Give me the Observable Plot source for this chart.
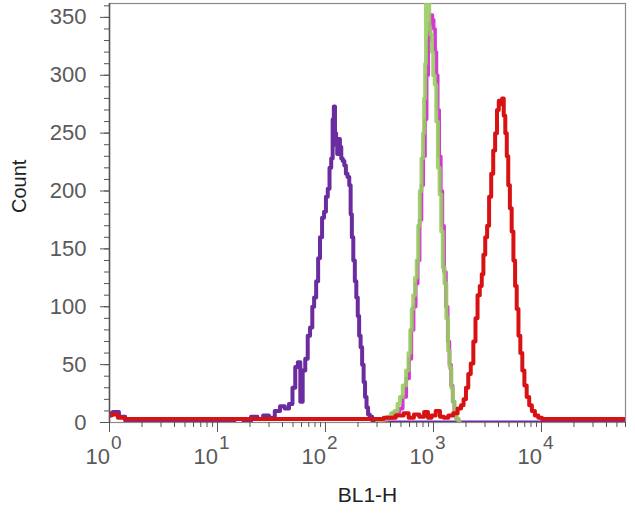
<!DOCTYPE html>
<html>
<head>
<meta charset="utf-8">
<script src="https://cdn.jsdelivr.net/npm/d3@7"></script>
<script src="https://cdn.jsdelivr.net/npm/@observablehq/plot@0.6"></script>
<style>
html, body { margin: 0; padding: 0; background: #fff; }
</style>
</head>
<body>
<div id="chart"></div>
<script>
// BL1-H values (fluorescence) and counts
const purpleBL1 = [1, 1.15, 1.3, 1.5, 2, 3, 10, 13, 16, 19, 22, 25, 28, 32, 36, 40, 44, 48, 51, 54, 57, 60, 63, 67, 70, 74, 77, 80, 84, 87, 91, 95, 99, 103, 107, 111, 115, 118, 121, 124, 127, 130, 134, 138, 142, 147, 152, 157, 163, 169, 173, 178, 184, 190, 196, 202, 208, 215, 222, 229, 236, 244, 252, 262, 280, 300, 60000];
const purpleCount = [8, 9, 5, 2, 1, 0, 0, 2, 3, 1, 5, 3, 6, 4, 10, 14, 12, 16, 30, 48, 52, 18, 45, 55, 75, 82, 100, 108, 122, 142, 160, 177, 182, 195, 202, 220, 228, 262, 273, 250, 240, 232, 245, 238, 228, 226, 222, 215, 212, 205, 180, 160, 140, 122, 108, 92, 75, 65, 50, 35, 22, 13, 7, 5, 2, 0, 0];

const magentaBL1 = [300, 350, 400, 440, 470, 500, 540, 580, 610, 640, 670, 700, 730, 760, 790, 820, 850, 880, 910, 940, 965, 990, 1020, 1050, 1080, 1110, 1150, 1190, 1230, 1280, 1330, 1380, 1430, 1480, 1530, 1590, 1660, 1750];
const magentaCount = [0, 2, 4, 8, 9, 12, 22, 38, 55, 80, 100, 120, 140, 175, 205, 230, 262, 300, 330, 345, 352, 348, 340, 320, 300, 270, 230, 200, 170, 130, 100, 70, 50, 32, 18, 8, 3, 0];

const greenBL1 = [300, 330, 360, 390, 420, 450, 480, 500, 540, 575, 600, 620, 640, 660, 690, 710, 735, 760, 790, 810, 830, 845, 862, 880, 900, 925, 950, 980, 1010, 1045, 1080, 1120, 1160, 1200, 1240, 1290, 1340, 1390, 1440, 1490, 1540, 1600, 1680, 1750];
const greenCount = [0, 2, 3, 5, 8, 10, 16, 22, 32, 45, 60, 80, 98, 110, 125, 140, 170, 200, 228, 250, 280, 310, 375, 385, 370, 340, 335, 320, 300, 292, 260, 220, 197, 165, 134, 120, 90, 62, 47, 30, 18, 8, 3, 0];

const redBL1 = [1, 1.1, 1.3, 1.5, 3, 10, 30, 100, 300, 400, 500, 560, 620, 700, 780, 860, 920, 1000, 1100, 1200, 1300, 1450, 1600, 1750, 1850, 1950, 2050, 2150, 2280, 2400, 2500, 2620, 2750, 2850, 2950, 3080, 3200, 3350, 3500, 3650, 3800, 3950, 4100, 4250, 4400, 4550, 4700, 4850, 5000, 5200, 5400, 5600, 5800, 6000, 6250, 6500, 6800, 7100, 7500, 7900, 8400, 9000, 9700, 10500, 15000, 30000, 60000];
const redCount = [6, 7, 4, 3, 3, 3, 3, 3, 3, 4, 6, 8, 4, 7, 5, 9, 4, 6, 10, 5, 4, 6, 8, 12, 15, 20, 30, 42, 51, 70, 90, 110, 118, 128, 145, 160, 170, 195, 215, 235, 250, 270, 278, 275, 280, 265, 250, 230, 205, 185, 165, 140, 118, 98, 75, 60, 45, 32, 22, 15, 10, 6, 4, 3, 3, 3, 3];

const xDecades = [1, 10, 100, 1000, 10000];
const xExponents = ["0", "1", "2", "3", "4"];
const yMajorTicks = [0, 50, 100, 150, 200, 250, 300, 350];

const toRows = (xs, ys) => xs.map((x, i) => ({x, y: ys[i]}));
const purple = toRows(purpleBL1, purpleCount);
const magenta = toRows(magentaBL1, magentaCount);
const green = toRows(greenBL1, greenCount);
const red = toRows(redBL1, redCount);

const xMinor = [];
for (const d of [1, 10, 100, 1000, 10000]) for (let k = 2; k <= 9; k++) if (d * k <= 60000) xMinor.push(d * k);
const yMinor = d3.range(0, 361, 10);

const font = "'Liberation Sans', Arial, sans-serif";

const chart = Plot.plot({
  width: 635,
  height: 529,
  marginLeft: 109,
  marginRight: 10,
  marginTop: 3,
  marginBottom: 107,
  style: {fontFamily: font, fontSize: "21px", background: "#fff", overflow: "visible"},
  x: {type: "log", domain: [1, 60000], axis: null},
  y: {domain: [0, 362], axis: null},
  marks: [
    Plot.frame({stroke: "#8a8a8a", strokeWidth: 1.2}),
    Plot.line(purple, {x: "x", y: "y", curve: "step", stroke: "#6a2c9e", strokeWidth: 4, clip: true}),
    Plot.line(magenta, {x: "x", y: "y", curve: "step", stroke: "#d23ad2", strokeWidth: 3.6, clip: true}),
    Plot.line(green, {x: "x", y: "y", curve: "step", stroke: "#98cc60", strokeWidth: 4, strokeOpacity: 0.9, clip: true}),
    Plot.line(red, {x: "x", y: "y", curve: "step", stroke: "#d81212", strokeWidth: 4, clip: true}),
    Plot.ruleX([1], {stroke: "#555", strokeWidth: 1.5}),
    Plot.axisY({ticks: yMinor, tickSize: 5, tickFormat: () => "", stroke: "#555", label: null}),
    Plot.axisY({ticks: yMajorTicks, tickSize: 9, tickPadding: 14, stroke: "#555", fill: "#5a5a5a", fontSize: 22, label: null}),
    Plot.axisX({ticks: xMinor, tickSize: 5, tickFormat: () => "", stroke: "#555", label: null}),
    Plot.axisX({ticks: xDecades, tickSize: 10, tickFormat: () => "", stroke: "#555", label: null}),
    Plot.text(xDecades, {x: d => d, frameAnchor: "bottom", dy: 41, dx: -6, text: d => "10", fill: "#5a5a5a", fontSize: 22}),
    Plot.text(["BL1-H"], {frameAnchor: "bottom", dy: 79, fill: "#222", fontSize: 21}),
    Plot.text(["Count"], {frameAnchor: "left", dx: -90, rotate: -90, fill: "#222", fontSize: 20})
  ]
});

document.getElementById("chart").appendChild(chart);

// add superscript exponents to the decade labels
let k = 0;
d3.select(chart).selectAll("text").each(function() {
  const t = d3.select(this);
  if (t.text() !== "10" || t.selectAll("tspan").size() > 0) return;
  const exp = xExponents[k++];
  t.text(null);
  t.append("tspan").text("10");
  t.append("tspan").style("font-size", "19px").attr("dy", -15).attr("dx", 1).text(exp);
});
</script>
</body>
</html>
